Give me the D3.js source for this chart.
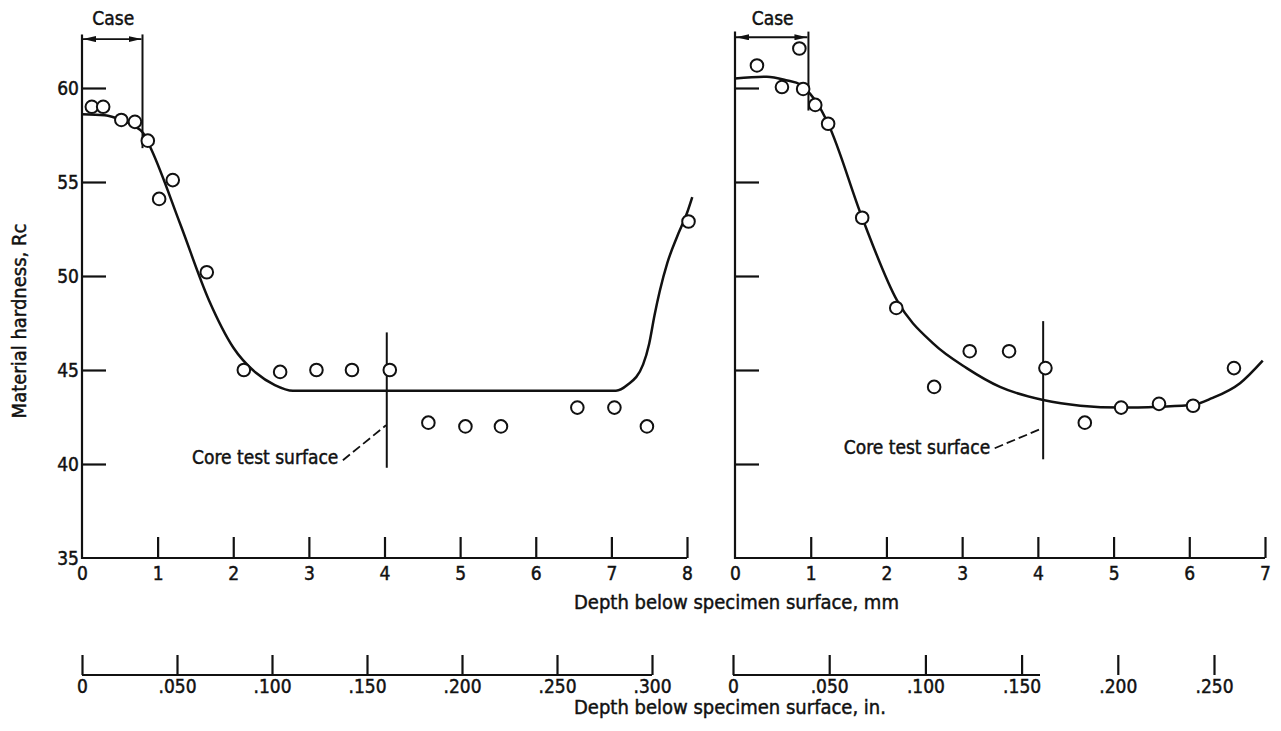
<!DOCTYPE html>
<html>
<head>
<meta charset="utf-8">
<script src="https://cdn.jsdelivr.net/npm/d3@7"></script>
<style>
  html, body { margin: 0; padding: 0; background: #fff; }
  svg { display: block; }
  text { font-family: "DejaVu Sans Condensed", "DejaVu Sans", sans-serif; font-stretch: condensed;
         fill: #111; stroke: #111; stroke-width: 0.45px; }
</style>
</head>
<body>
<svg id="chart" width="1281" height="731"></svg>
<script>
// Hardness traverse, specimen A (left panel): depth in mm, hardness Rc
const depthA = [0.13, 0.28, 0.52, 0.70, 0.87, 1.02, 1.20, 1.65, 2.14, 2.62, 3.10, 3.57, 4.07, 4.58, 5.07, 5.54, 6.55, 7.04, 7.47, 8.02];
const hardA  = [59.0, 59.0, 58.3, 58.2, 57.2, 54.1, 55.1, 50.2, 45.0, 44.9, 45.0, 45.0, 45.0, 42.2, 42.0, 42.0, 43.0, 43.0, 42.0, 52.9];

// Faired curve through specimen A
const fitDepthA = [0, 0.30, 0.45, 0.68, 0.81, 0.92, 1.30, 1.68, 2.00, 2.30, 2.55, 2.79, 7.06, 7.21, 7.42, 7.50, 7.57, 7.64, 7.74, 7.87, 8.00, 8.07];
const fitHardA  = [58.6, 58.55, 58.4, 58.0, 57.6, 56.7, 52.75, 48.7, 46.2, 44.85, 44.2, 43.9, 43.9, 44.2, 45.3, 46.4, 47.9, 49.2, 50.7, 52.1, 53.35, 54.2];

// Hardness traverse, specimen B (right panel)
const depthB = [0.29, 0.62, 0.85, 0.90, 1.06, 1.23, 1.68, 2.13, 2.63, 3.10, 3.62, 4.10, 4.62, 5.10, 5.60, 6.05, 6.59];
const hardB  = [61.2, 60.05, 62.1, 59.95, 59.1, 58.1, 53.1, 48.3, 44.1, 46.0, 46.0, 45.1, 42.2, 43.0, 43.2, 43.1, 45.1];

// Faired curve through specimen B
const fitDepthB = [0, 0.42, 0.69, 0.86, 0.99, 1.10, 1.23, 1.68, 2.14, 2.62, 3.06, 3.50, 4.07, 4.56, 5.10, 5.60, 6.05, 6.30, 6.67, 6.97];
const fitHardB  = [60.5, 60.6, 60.4, 60.2, 59.7, 59.1, 58.1, 53.1, 48.7, 46.4, 45.1, 44.1, 43.4, 43.1, 43.0, 43.05, 43.15, 43.5, 44.3, 45.5];

// Case depth (mm) and core test surface depth (mm) for each specimen
const caseDepthA = 0.80, caseDepthB = 0.97;
const coreDepthA = 4.03, coreDepthB = 4.07;

// Axis ticks
const mmTicksA = [0, 1, 2, 3, 4, 5, 6, 7, 8];
const mmTicksB = [0, 1, 2, 3, 4, 5, 6, 7];
const hardTicks = [35, 40, 45, 50, 55, 60];
const inTicksA = [0, 0.05, 0.10, 0.15, 0.20, 0.25, 0.30];
const inTicksB = [0, 0.05, 0.10, 0.15, 0.20, 0.25];

const svg = d3.select("#chart");
const FS = 19;

const xA = d3.scaleLinear().domain([0, 8]).range([82, 687]);
const xB = d3.scaleLinear().domain([0, 7]).range([735, 1265]);
const y  = d3.scaleLinear().domain([35, 60]).range([558, 88]);
const inA = d3.scaleLinear().domain([0, 0.30]).range([82, 652]);
const inB = d3.scaleLinear().domain([0, 0.25]).range([733, 1214]);

const inchFmt = d => d === 0 ? "0" : d3.format(".3f")(d).replace(/^0/, "");

// arrowhead for the case-depth brackets
svg.append("defs").append("marker")
  .attr("id", "arrow").attr("viewBox", "0 0 13 6")
  .attr("refX", 13).attr("refY", 3)
  .attr("markerWidth", 13).attr("markerHeight", 6)
  .attr("markerUnits", "userSpaceOnUse")
  .attr("orient", "auto-start-reverse")
  .append("path").attr("d", "M0,0 L13,3 L0,6 Z").attr("fill", "#111");

function styleAxis(g) {
  g.select(".domain").remove();
  g.selectAll(".tick line").attr("stroke", "#111").attr("stroke-width", 2.2);
  g.selectAll(".tick text").attr("font-size", FS).attr("fill", "#111");
  g.attr("font-family", null).attr("font-size", null);
}

function panel(x, ticks, depth, hard, fitDepth, fitHard, caseDepth, coreDepth, opts) {
  const g = svg.append("g");

  // y axis line and inward ticks
  g.append("line").attr("x1", x(0)).attr("x2", x(0))
    .attr("y1", y(35) + 1).attr("y2", y(opts.axisTop))
    .attr("stroke", "#111").attr("stroke-width", 2.2);
  const yAxis = d3.axisLeft(y).tickValues(opts.yLabels ? hardTicks : hardTicks.filter(d => d > 35))
    .tickSize(-24).tickPadding(3)
    .tickFormat(opts.yLabels ? d3.format("d") : () => "");
  g.append("g").attr("transform", `translate(${x(0)},0)`).call(yAxis).call(styleAxis)
    .selectAll(".tick line").filter(d => d === 35).remove();

  // x axis line and upward ticks
  g.append("line").attr("x1", x(0)).attr("x2", x(ticks[ticks.length - 1]))
    .attr("y1", y(35)).attr("y2", y(35))
    .attr("stroke", "#111").attr("stroke-width", 2.2);
  const xAxis = d3.axisBottom(x).tickValues(ticks).tickSize(-21).tickPadding(9).tickFormat(d3.format("d"));
  g.append("g").attr("transform", `translate(0,${y(35)})`).call(xAxis).call(styleAxis)
    .selectAll(".tick line").filter(d => d === 0).remove();

  // faired curve
  const line = d3.line().x(d => x(d[0])).y(d => y(d[1])).curve(d3.curveMonotoneX);
  g.append("path").datum(d3.zip(fitDepth, fitHard))
    .attr("d", line).attr("fill", "none").attr("stroke", "#111").attr("stroke-width", 2.5);

  // case bracket
  g.append("line").attr("x1", x(caseDepth)).attr("x2", x(caseDepth))
    .attr("y1", y(opts.axisTop)).attr("y2", y(opts.caseBottom))
    .attr("stroke", "#111").attr("stroke-width", 2);
  g.append("line").attr("x1", x(0) + 1).attr("x2", x(caseDepth) - 1)
    .attr("y1", y(opts.arrowAt)).attr("y2", y(opts.arrowAt))
    .attr("stroke", "#111").attr("stroke-width", 1.8)
    .attr("marker-start", "url(#arrow)").attr("marker-end", "url(#arrow)");
  g.append("text").attr("x", x(caseDepth / 2) + 1).attr("y", 25)
    .attr("text-anchor", "middle").attr("font-size", FS).text("Case");

  // core test surface marker with dashed leader
  g.append("line").attr("x1", x(coreDepth)).attr("x2", x(coreDepth))
    .attr("y1", y(opts.coreTop)).attr("y2", y(opts.coreBottom))
    .attr("stroke", "#111").attr("stroke-width", 2);
  g.append("path")
    .attr("d", `M${x(opts.leader[0])},${y(opts.leader[1])} L${x(opts.leader[2])},${y(opts.leader[3])}`)
    .attr("fill", "none").attr("stroke", "#111").attr("stroke-width", 1.8)
    .attr("stroke-dasharray", "9,4");
  g.append("text").attr("x", x(opts.labelEnd)).attr("y", opts.labelY)
    .attr("text-anchor", "end").attr("font-size", FS).text("Core test surface");

  // measured points
  g.selectAll("circle").data(d3.zip(depth, hard)).join("circle")
    .attr("cx", d => x(d[0])).attr("cy", d => y(d[1])).attr("r", 6.3)
    .attr("fill", "#fff").attr("stroke", "#111").attr("stroke-width", 2);
}

panel(xA, mmTicksA, depthA, hardA, fitDepthA, fitHardA, caseDepthA, coreDepthA, {
  yLabels: true, axisTop: 62.85, caseBottom: 56.8, arrowAt: 62.6,
  coreTop: 47.0, coreBottom: 39.8, leader: [3.45, 40.2, 4.02, 42.06],
  labelEnd: 3.39, labelY: 464
});
panel(xB, mmTicksB, depthB, hardB, fitDepthB, fitHardB, caseDepthB, coreDepthB, {
  yLabels: false, axisTop: 63.0, caseBottom: 58.8, arrowAt: 62.7,
  coreTop: 47.6, coreBottom: 40.25, leader: [3.43, 40.84, 4.06, 41.9],
  labelEnd: 3.37, labelY: 454
});

// y axis title
svg.append("text").attr("transform", "translate(26,321) rotate(-90)")
  .attr("text-anchor", "middle").attr("font-size", 20).text("Material hardness, Rc");

// mm axis title
svg.append("text").attr("x", 574).attr("y", 609).attr("font-size", 20)
  .text("Depth below specimen surface, mm");

// inch scales beneath
function inchAxis(scale, ticks, lineEnd) {
  const g = svg.append("g");
  g.append("line").attr("x1", scale(0)).attr("x2", lineEnd)
    .attr("y1", 675).attr("y2", 675).attr("stroke", "#111").attr("stroke-width", 2);
  const ax = d3.axisBottom(scale).tickValues(ticks).tickSize(-20).tickPadding(5).tickFormat(inchFmt);
  g.append("g").attr("transform", "translate(0,675)").call(ax).call(styleAxis);
}
inchAxis(inA, inTicksA, inA(0.30));
inchAxis(inB, inTicksB, 1040);

svg.append("text").attr("x", 574).attr("y", 714).attr("font-size", 20)
  .text("Depth below specimen surface, in.");
</script>
</body>
</html>
